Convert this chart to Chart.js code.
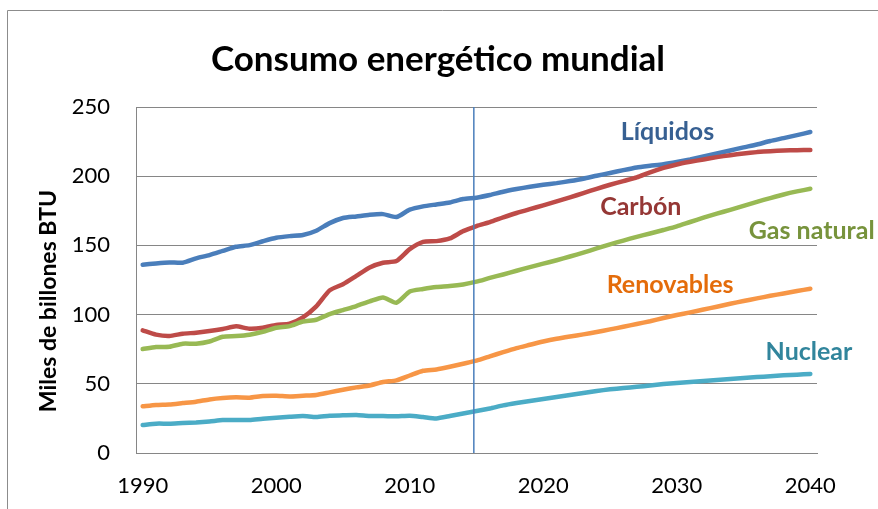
<!DOCTYPE html>
<html>
<head>
<meta charset="utf-8">
<script src="https://cdn.jsdelivr.net/npm/chart.js@4.4.1/dist/chart.umd.min.js"></script>
<style>
  html, body { margin: 0; padding: 0; background: #fff; overflow: hidden; }
  #wrap { position: relative; width: 878px; height: 509px; }
</style>
</head>
<body>
<div id="wrap"><canvas id="chart" width="878" height="509"></canvas></div>
<script>
// --- data ---
const years = [
  1990, 1991, 1992, 1993, 1994, 1995, 1996, 1997, 1998, 1999,
  2000, 2001, 2002, 2003, 2004, 2005, 2006, 2007, 2008, 2009,
  2010, 2011, 2012, 2013, 2014, 2015, 2016, 2017, 2018, 2019,
  2020, 2021, 2022, 2023, 2024, 2025, 2026, 2027, 2028, 2029,
  2030, 2031, 2032, 2033, 2034, 2035, 2036, 2037, 2038, 2039, 2040
];
const tickYears = [1990, 2000, 2010, 2020, 2030, 2040];
const yTicks = [0, 50, 100, 150, 200, 250];

const liquidos = [
  136, 137, 137.7, 137.5, 140.6, 143, 146, 149, 150.2, 153,
  155.5, 156.7, 157.5, 160.6, 166.1, 169.8, 170.9, 172.1, 172.6, 170.5,
  175.8, 178.2, 179.6, 181, 183.5, 184.5, 186.4, 188.8, 190.7, 192.4,
  193.8, 195, 196.5, 198.2, 200.3, 202.3, 204.4, 206.3, 207.5, 208.6,
  210.2, 212.1, 214.3, 216.4, 218.6, 220.8, 222.9, 225.4, 227.5, 229.7, 231.9
];
const carbon = [
  88.6, 85.5, 84.5, 86.2, 86.9, 88.1, 89.6, 91.5, 89.8, 90.5,
  92.5, 93.4, 98, 105.9, 117.5, 122, 128, 134.1, 137.5, 138.7,
  147.3, 152.6, 153.1, 155, 160.3, 164, 166.8, 170.2, 173.4, 176.2,
  178.9, 181.8, 184.7, 187.8, 190.9, 193.8, 196.5, 199.1, 202.8, 206,
  208.5, 210.4, 212.1, 213.8, 215.2, 216.4, 217.4, 218.1, 218.6, 218.8, 218.9
];
const gasNatural = [
  75.1, 76.6, 76.8, 79, 79, 80.6, 84, 84.5, 85.5, 87.6,
  90.5, 91.7, 95, 96.3, 100.4, 103.3, 106.2, 109.5, 112.4, 108.6,
  116.7, 118.5, 119.9, 120.6, 121.8, 123.8, 126.5, 129, 131.7, 134.3,
  136.8, 139.3, 142, 144.8, 147.8, 150.8, 153.5, 156.2, 158.6, 161.1,
  163.7, 166.9, 170, 172.9, 175.7, 178.6, 181.5, 184.2, 186.8, 189, 190.9
];
const renovables = [
  33.7, 34.7, 35.1, 36.1, 37.1, 38.7, 39.7, 40.2, 40, 41.2,
  41.4, 40.9, 41.4, 41.9, 43.8, 45.7, 47.4, 48.8, 51.3, 52.5,
  56, 59.4, 60.4, 62.3, 64.5, 66.7, 69.8, 72.9, 75.8, 78.2,
  80.6, 82.6, 84.2, 85.7, 87.4, 89.3, 91.2, 93.2, 95.2, 97.5,
  99.7, 101.6, 103.7, 105.7, 107.8, 109.8, 111.7, 113.6, 115.3, 117, 118.7
];
const nuclear = [
  20.2, 21.2, 21.2, 21.7, 22.1, 22.8, 23.8, 23.8, 23.8, 24.8,
  25.5, 26.2, 26.7, 26, 27, 27.2, 27.4, 26.7, 26.7, 26.5,
  27, 26, 25, 26.7, 28.6, 30.3, 32.2, 34.4, 36.1, 37.6,
  39, 40.4, 41.9, 43.3, 44.8, 46, 46.9, 47.9, 48.7, 49.8,
  50.6, 51.3, 52, 52.7, 53.5, 54.2, 54.9, 55.4, 56.1, 56.6, 57.1
];
const forecastYear = 2014.8;   // vertical marker (history / projection)

// --- styling ---
const FONT = 'Lato, "Open Sans", sans-serif';
const GRID = '#868686';

const seriesStyle = [
  { name: 'Líquidos',    data: liquidos,   line: '#4A7EBB', text: '#376092', at: [2029.3, 232.2] },
  { name: 'Carbón',      data: carbon,     line: '#BE4B48', text: '#953735', at: [2027.3, 177.9] },
  { name: 'Gas natural', data: gasNatural, line: '#98B954', text: '#77933C', at: [2040.1, 160.7] },
  { name: 'Renovables',  data: renovables, line: '#F79646', text: '#E46C0A', at: [2029.5, 121.6] },
  { name: 'Nuclear',     data: nuclear,    line: '#4BACC6', text: '#31859C', at: [2039.9, 73.2] }
];

const framePlugin = {
  id: 'frame',
  beforeDraw(chart) {
    const ctx = chart.ctx;
    ctx.save();
    ctx.strokeStyle = '#8c8c8c';
    ctx.lineWidth = 1;
    ctx.beginPath();
    ctx.moveTo(7.5, chart.height);
    ctx.lineTo(7.5, 10.5);
    ctx.lineTo(chart.width, 10.5);
    ctx.stroke();
    ctx.restore();
  }
};

const forecastPlugin = {
  id: 'forecast',
  afterDatasetsDraw(chart) {
    const { ctx, chartArea, scales } = chart;
    const x = scales.x.getPixelForValue(forecastYear - years[0]);
    ctx.save();
    ctx.strokeStyle = '#4A7EBB';
    ctx.lineWidth = 1.5;
    ctx.beginPath();
    ctx.moveTo(x, chartArea.top);
    ctx.lineTo(x, chartArea.bottom);
    ctx.stroke();
    ctx.restore();
  }
};

const textPlugin = {
  id: 'texts',
  afterDraw(chart) {
    const { ctx, scales } = chart;
    ctx.save();
    // title
    ctx.fillStyle = '#000';
    ctx.font = 'bold 35px ' + FONT;
    ctx.textAlign = 'center';
    ctx.textBaseline = 'alphabetic';
    ctx.fillText('Consumo energético mundial', 438, 71);
    // y axis title
    ctx.save();
    ctx.translate(56, 301);
    ctx.rotate(-Math.PI / 2);
    ctx.font = 'bold 23px ' + FONT;
    ctx.fillText('Miles de billones BTU', 0, 0);
    ctx.restore();
    // series labels
    ctx.font = 'bold 25px ' + FONT;
    ctx.textBaseline = 'middle';
    seriesStyle.forEach(s => {
      ctx.fillStyle = s.text;
      const x = scales.x.getPixelForValue(s.at[0] - years[0]);
      const y = scales.y.getPixelForValue(s.at[1]);
      ctx.fillText(s.name, x, y);
    });
    ctx.restore();
  }
};

new Chart(document.getElementById('chart'), {
  type: 'line',
  data: {
    labels: years,
    datasets: seriesStyle.map((s, i) => ({
      label: s.name,
      data: s.data,
      borderColor: s.line,
      backgroundColor: s.line,
      borderWidth: 4.5,
      pointRadius: 0,
      tension: 0.2,
      borderCapStyle: 'round',
      borderJoinStyle: 'round',
      fill: false,
      order: seriesStyle.length - i
    }))
  },
  options: {
    responsive: false,
    animation: false,
    events: [],
    layout: { padding: { top: 107, right: 61, bottom: 0, left: 0 } },
    plugins: { legend: { display: false }, title: { display: false }, tooltip: { enabled: false } },
    scales: {
      x: {
        type: 'category',
        offset: true,
        grid: { display: true, drawOnChartArea: false, drawTicks: false },
        border: { display: true, color: GRID, width: 1 },
        ticks: {
          autoSkip: false,
          maxRotation: 0,
          padding: 20,
          color: '#000',
          font: { family: FONT, size: 22 },
          callback: function (v) {
            const yr = years[v];
            return tickYears.includes(yr) ? String(yr) : '';
          }
        },
        afterFit: s => { s.height = 56; }
      },
      y: {
        min: 0,
        max: 250,
        afterBuildTicks: s => { s.ticks = yTicks.map(v => ({ value: v })); },
        grid: { color: GRID, lineWidth: 1, drawTicks: false },
        border: { display: true, color: GRID, width: 1 },
        ticks: {
          padding: 26,
          color: '#000',
          font: { family: FONT, size: 22 }
        },
        afterFit: s => { s.width = 136; }
      }
    }
  },
  plugins: [framePlugin, forecastPlugin, textPlugin]
});
</script>
</body>
</html>
